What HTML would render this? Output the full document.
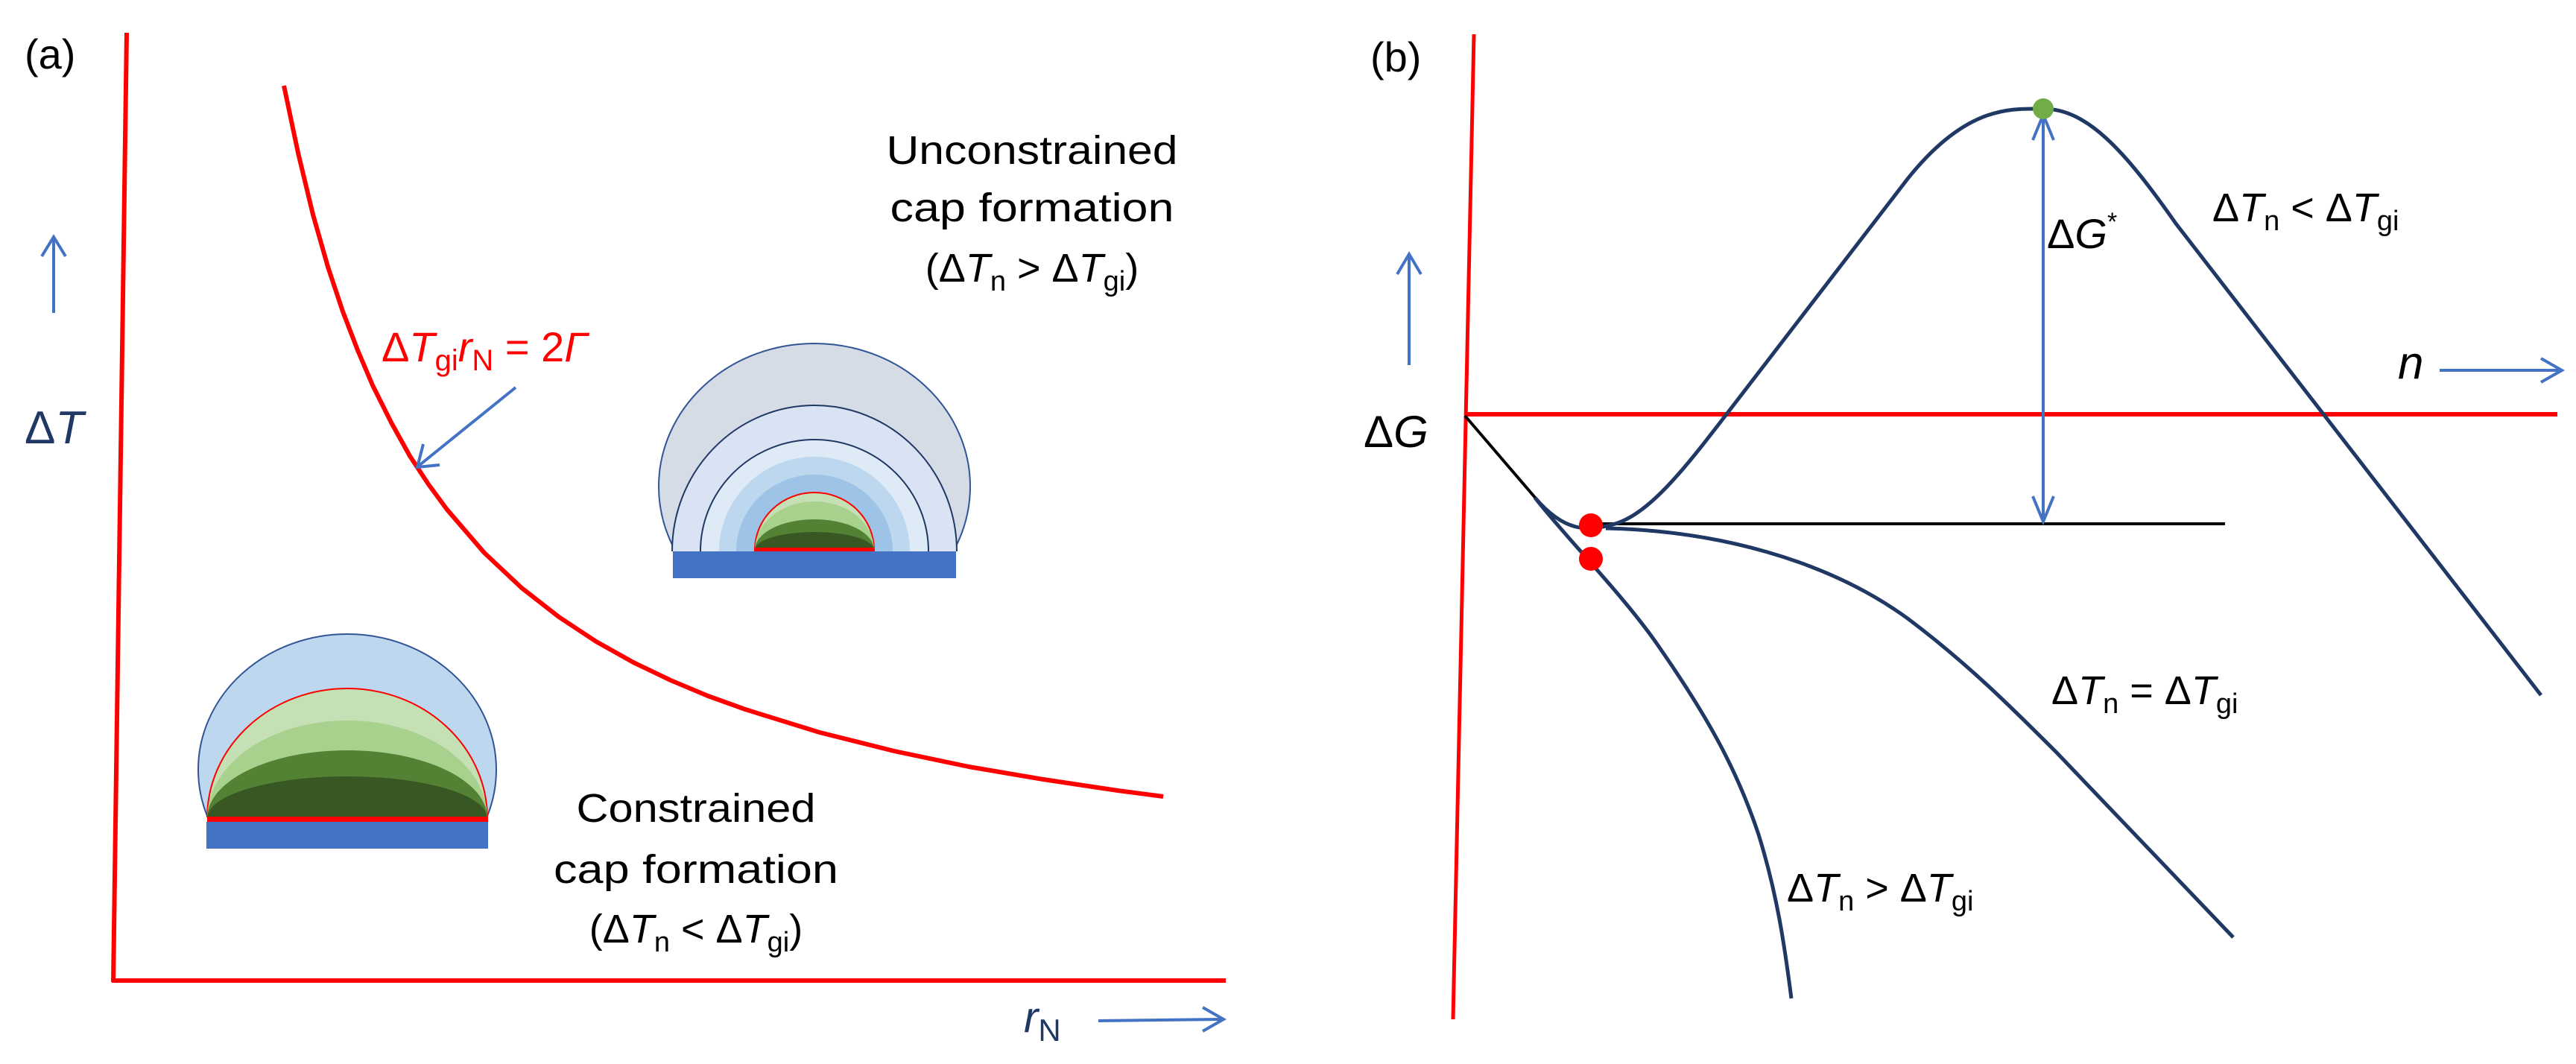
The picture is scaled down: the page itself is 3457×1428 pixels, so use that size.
<!DOCTYPE html>
<html><head><meta charset="utf-8"><style>
html,body{margin:0;padding:0;background:#fff}
svg{display:block}
text{font-family:"Liberation Sans",sans-serif}
</style></head><body>
<svg width="3457" height="1428" viewBox="0 0 3457 1428" xmlns="http://www.w3.org/2000/svg">
<defs>
<clipPath id="c1"><rect x="800" y="300" width="600" height="440"/></clipPath>
<clipPath id="c2"><rect x="200" y="800" width="600" height="297"/></clipPath>
</defs>
<!-- Panel a axes -->
<line x1="170" y1="44" x2="152" y2="1318" stroke="#f00" stroke-width="6"/>
<line x1="150" y1="1316" x2="1645" y2="1316" stroke="#f00" stroke-width="6"/>
<polyline points="381,115 400,205 420,288 440,358 460,418 480,470 500,517 525,567 550,612 575,650 600,684 650,742 700,789 750,828 800,861 850,889 900,913 950,934 1000,952 1100,983 1200,1008 1300,1029 1400,1046 1500,1061 1561,1069" fill="none" stroke="#f00" stroke-width="6" stroke-linejoin="round"/>
<!-- arrows a -->
<g stroke="#4472c4" stroke-width="4" fill="none">
<line x1="72" y1="420" x2="72" y2="320"/><polyline points="56,344 72,318 88,344"/>
<line x1="692" y1="520" x2="562" y2="625"/><polyline points="568,596 560,627 590,624"/>
<line x1="1474" y1="1370" x2="1640" y2="1368"/><polyline points="1614,1352 1642,1368 1614,1384"/>
</g>
<!-- upper hemispheres -->
<g clip-path="url(#c1)">
<ellipse cx="1093" cy="653" rx="209" ry="192" fill="#d6dce5" stroke="#2f5597" stroke-width="2"/>
<ellipse cx="1093" cy="740" rx="191" ry="196" fill="#dae3f3" stroke="#203864" stroke-width="2"/>
<ellipse cx="1093" cy="740" rx="153" ry="150" fill="#deebf7" stroke="#203864" stroke-width="2"/>
<ellipse cx="1093" cy="740" rx="128" ry="127" fill="#bdd7ee"/>
<ellipse cx="1093" cy="740" rx="105" ry="103" fill="#9dc3e6"/>
<ellipse cx="1093" cy="738" rx="80" ry="77" fill="#c5e0b4" stroke="#f00" stroke-width="2"/>
<ellipse cx="1093" cy="738" rx="80" ry="65" fill="#a9d18e"/>
<ellipse cx="1093" cy="738" rx="80" ry="41" fill="#548235"/>
<ellipse cx="1093" cy="738" rx="80" ry="24" fill="#385723"/>
</g>
<rect x="1012" y="735" width="161" height="5" fill="#f00"/>
<rect x="903" y="740" width="380" height="36" fill="#4472c4"/>
<!-- lower hemispheres -->
<g clip-path="url(#c2)">
<ellipse cx="466" cy="1033" rx="200" ry="182" fill="#bdd7ee" stroke="#2f5597" stroke-width="2"/>
<ellipse cx="466" cy="1098" rx="188" ry="174" fill="#c5e0b4" stroke="#f00" stroke-width="2"/>
<ellipse cx="466" cy="1098" rx="188" ry="131" fill="#a9d18e"/>
<ellipse cx="466" cy="1098" rx="188" ry="91" fill="#548235"/>
<ellipse cx="466" cy="1098" rx="188" ry="56" fill="#385723"/>
</g>
<rect x="278" y="1096" width="377" height="7" fill="#f00"/>
<rect x="277" y="1103" width="378" height="36" fill="#4472c4"/>
<!-- text a -->
<text x="33" y="92" font-size="56">(a)</text>
<text x="33" y="595" font-size="62" fill="#203864">Δ<tspan font-style="italic">T</tspan></text>
<text x="512" y="485" font-size="56" fill="#f00">Δ<tspan font-style="italic">T</tspan><tspan font-size="40" dy="12">gi</tspan><tspan font-style="italic" dy="-12">r</tspan><tspan font-size="40" dy="12">N</tspan><tspan dy="-12"> = 2</tspan><tspan font-style="italic">Γ</tspan></text>
<g font-size="54" text-anchor="middle">
<text x="1385" y="220" textLength="391" lengthAdjust="spacingAndGlyphs">Unconstrained</text>
<text x="1385" y="297" textLength="381" lengthAdjust="spacingAndGlyphs">cap formation</text>
<text x="1385" y="378">(Δ<tspan font-style="italic">T</tspan><tspan font-size="38" dy="12">n</tspan><tspan dy="-12"> &gt; Δ</tspan><tspan font-style="italic">T</tspan><tspan font-size="38" dy="12">gi</tspan><tspan dy="-12">)</tspan></text>
<text x="934" y="1103" textLength="321" lengthAdjust="spacingAndGlyphs">Constrained</text>
<text x="934" y="1185" textLength="382" lengthAdjust="spacingAndGlyphs">cap formation</text>
<text x="934" y="1265">(Δ<tspan font-style="italic">T</tspan><tspan font-size="38" dy="12">n</tspan><tspan dy="-12"> &lt; Δ</tspan><tspan font-style="italic">T</tspan><tspan font-size="38" dy="12">gi</tspan><tspan dy="-12">)</tspan></text>
</g>
<text x="1374" y="1385" font-size="58" fill="#203864"><tspan font-style="italic">r</tspan><tspan font-size="42" dy="12">N</tspan></text>
<!-- Panel b -->
<line x1="1978" y1="46" x2="1950" y2="1368" stroke="#f00" stroke-width="5"/>
<line x1="1966" y1="556" x2="3432" y2="556" stroke="#f00" stroke-width="6"/>
<line x1="1966" y1="558" x2="2062" y2="670" stroke="#000" stroke-width="4"/>
<line x1="2132" y1="703" x2="2986" y2="703" stroke="#000" stroke-width="4"/>
<g fill="none" stroke="#203864" stroke-width="5">
<path d="M2060,668 C2100,715 2130,712 2160,705 C2210,695 2260,630 2320,552 L2560,240 C2640,140 2700,146 2742,146 C2800,146 2850,200 2920,300 L3410,933"/>
<path d="M2155,709 C2300,712 2450,750 2560,830 C2640,890 2700,950 2760,1010 L2997,1258"/>
<path d="M2060,668 C2100,720 2180,800 2227,869 C2290,960 2330,1030 2360,1120 C2385,1200 2395,1270 2404,1340"/>
</g>
<g stroke="#4472c4" stroke-width="4" fill="none">
<line x1="2742" y1="152" x2="2742" y2="700"/>
<polyline points="2728,188 2742,154 2756,188"/>
<polyline points="2728,666 2742,700 2756,666"/>
<line x1="1891" y1="490" x2="1891" y2="343"/><polyline points="1875,368 1891,341 1907,368"/>
<line x1="3274" y1="497" x2="3436" y2="497"/><polyline points="3410,481 3438,497 3410,513"/>
</g>
<circle cx="2135" cy="705" r="16" fill="#f00"/>
<circle cx="2135" cy="750" r="16" fill="#f00"/>
<circle cx="2742" cy="146" r="14" fill="#70ad47"/>
<text x="1839" y="96" font-size="56">(b)</text>
<text x="1830" y="600" font-size="60">Δ<tspan font-style="italic">G</tspan></text>
<text x="3218" y="508" font-size="62" font-style="italic">n</text>
<text x="2747" y="333" font-size="56">Δ<tspan font-style="italic">G</tspan><tspan font-size="34" dy="-24">*</tspan></text>
<g font-size="54">
<text x="2969" y="297">Δ<tspan font-style="italic">T</tspan><tspan font-size="38" dy="12">n</tspan><tspan dy="-12"> &lt; Δ</tspan><tspan font-style="italic">T</tspan><tspan font-size="38" dy="12">gi</tspan></text>
<text x="2753" y="945">Δ<tspan font-style="italic">T</tspan><tspan font-size="38" dy="12">n</tspan><tspan dy="-12"> = Δ</tspan><tspan font-style="italic">T</tspan><tspan font-size="38" dy="12">gi</tspan></text>
<text x="2398" y="1210">Δ<tspan font-style="italic">T</tspan><tspan font-size="38" dy="12">n</tspan><tspan dy="-12"> &gt; Δ</tspan><tspan font-style="italic">T</tspan><tspan font-size="38" dy="12">gi</tspan></text>
</g>
</svg>
</body></html>
